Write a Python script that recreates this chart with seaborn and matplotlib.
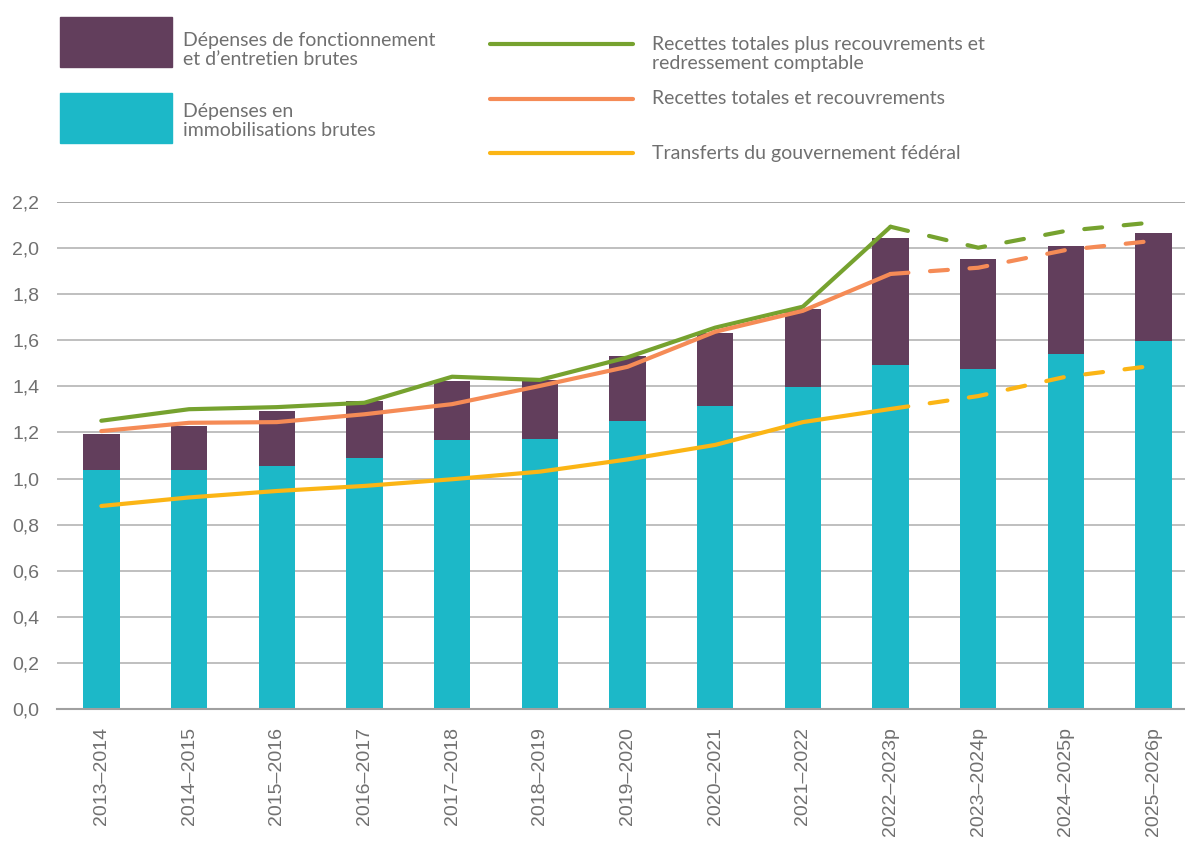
import numpy as np
import pandas as pd
import seaborn as sns
import matplotlib.pyplot as plt
from matplotlib.patches import Rectangle
from matplotlib.lines import Line2D

years = ['2013–2014', '2014–2015', '2015–2016', '2016–2017', '2017–2018', '2018–2019',
         '2019–2020', '2020–2021', '2021–2022', '2022–2023p', '2023–2024p', '2024–2025p',
         '2025–2026p']
immobilisations = [1.037, 1.037, 1.054, 1.089, 1.167, 1.172, 1.250, 1.315, 1.397,
                   1.493, 1.475, 1.540, 1.597]
fonctionnement = [0.156, 0.191, 0.239, 0.247, 0.256, 0.256, 0.282, 0.317, 0.339,
                  0.551, 0.478, 0.469, 0.469]
recettes_plus = [1.251, 1.301, 1.310, 1.329, 1.442, 1.428, 1.526, 1.655, 1.746,
                 2.093, 2.002, 2.075, 2.112]
recettes = [1.206, 1.242, 1.245, 1.279, 1.323, 1.402, 1.485, 1.637, 1.728,
            1.888, 1.915, 1.992, 2.032]
transferts = [0.881, 0.918, 0.946, 0.968, 0.997, 1.030, 1.083, 1.146, 1.245,
              1.302, 1.358, 1.442, 1.490]
last_actual = 9  # index of 2022–2023p: solid up to here, dashed after

purple = '#623e5c'
teal = '#1cb8c8'
green = '#76a22f'
orange = '#f58b56'
yellow = '#fbb515'
grey_txt = '#707070'

sns.set_theme(style='white')
plt.rcParams['font.family'] = ['Liberation Sans', 'DejaVu Sans']

df = pd.DataFrame({'annee': years, 'immo': immobilisations, 'fonct': fonctionnement})
df['total'] = df['immo'] + df['fonct']

fig = plt.figure(figsize=(11.85, 8.42), dpi=100)
# the plot area runs a little past the right edge, as in the original
ax = fig.add_axes([0.0485, 0.158, 0.962, 0.602])

sns.barplot(data=df, x='annee', y='total', color=purple, width=0.415, saturation=1,
            linewidth=0, ax=ax)
sns.barplot(data=df, x='annee', y='immo', color=teal, width=0.415, saturation=1,
            linewidth=0, ax=ax)

x = np.arange(len(years))
for vals, col in [(recettes_plus, green), (recettes, orange), (transferts, yellow)]:
    ax.plot(x[:last_actual + 1], vals[:last_actual + 1], color=col, lw=3,
            solid_capstyle='round', solid_joinstyle='round', zorder=4)
    ax.plot(x[last_actual:], vals[last_actual:], color=col, lw=3,
            dashes=(4.3, 5.2), dash_capstyle='round', zorder=4)

ax.set_ylim(0, 2.2)
ax.set_xlim(-0.5, len(years) - 0.5)
yt = np.arange(0, 2.21, 0.2)
ax.set_yticks(yt)
ax.set_yticklabels([f'{v:.1f}'.replace('.', ',') for v in yt], fontsize=14, color=grey_txt)
ax.set_xticks(x)
ax.set_xticklabels(years, rotation=90, fontsize=14, color=grey_txt)
ax.tick_params(axis='x', length=0, pad=13)
ax.tick_params(axis='y', length=0, pad=13)
ax.set_xlabel('')
ax.set_ylabel('')
for v in yt[1:]:
    ax.axhline(v, color='#b4b4b4' if v < 2.1 else '#999999', lw=1.2, zorder=0)
for s in ['top', 'right', 'left']:
    ax.spines[s].set_visible(False)
ax.spines['bottom'].set_color('#a0a0a0')
ax.spines['bottom'].set_linewidth(1.5)

# legend, drawn by hand at the top
W, H = 1185, 842
def fx(px):
    return px / W
def fy(py):
    return 1 - py / H

fig.add_artist(Rectangle((fx(60), fy(67)), fx(112), 50 / H, color=purple, transform=fig.transFigure))
fig.add_artist(Rectangle((fx(60), fy(143)), fx(112), 50 / H, color=teal, transform=fig.transFigure))
leg_font = dict(fontsize=14, color=grey_txt, family=['Lato', 'DejaVu Sans'],
                va='center', ha='left', linespacing=1.2)
fig.text(fx(183), fy(50), 'Dépenses de fonctionnement\net d’entretien brutes', **leg_font)
fig.text(fx(183), fy(121), 'Dépenses en\nimmobilisations brutes', **leg_font)

for py, col, label, ty in [(44, green, 'Recettes totales plus recouvrements et\nredressement comptable', 54),
                           (99, orange, 'Recettes totales et recouvrements', 99),
                           (153, yellow, 'Transferts du gouvernement fédéral', 153)]:
    fig.add_artist(Line2D([fx(490), fx(633)], [fy(py), fy(py)], color=col, lw=3,
                          solid_capstyle='round', transform=fig.transFigure))
    fig.text(fx(652), fy(ty), label, **leg_font)

fig.savefig('out.png', dpi=100)
